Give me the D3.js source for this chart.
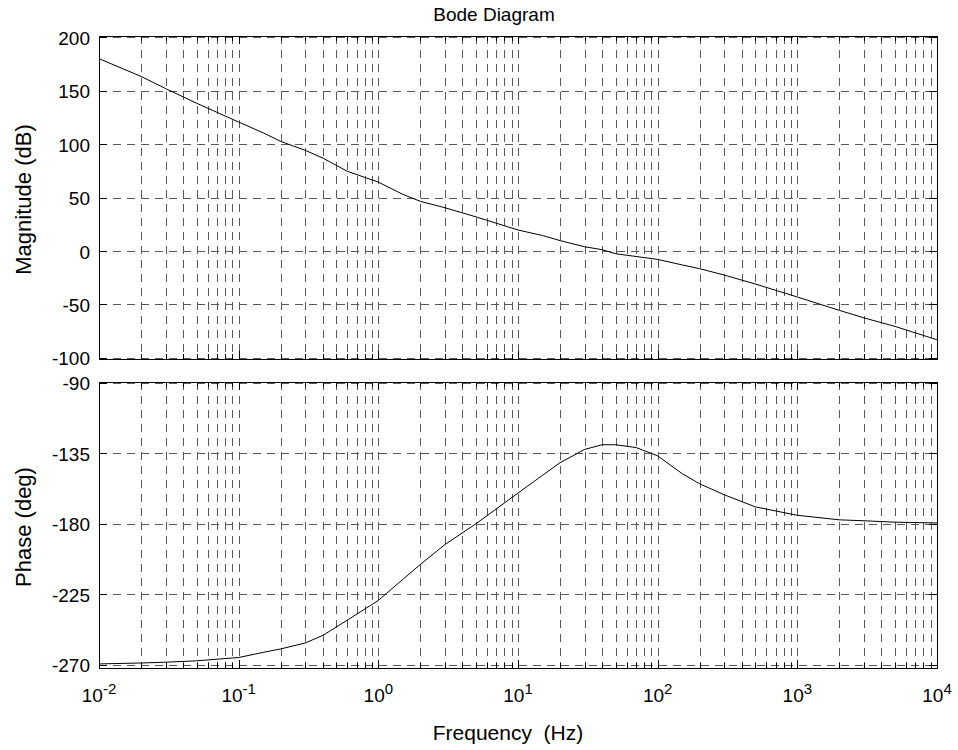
<!DOCTYPE html>
<html>
<head>
<meta charset="utf-8">
<script src="https://cdn.jsdelivr.net/npm/d3@7"></script>
<style>
  html, body { margin: 0; padding: 0; background: #fff; }
  svg { display: block; font-family: "Liberation Sans", Arial, sans-serif; }
</style>
</head>
<body>
<svg id="chart" width="958" height="750"></svg>
<script>
// Frequency samples (Hz) shared by both responses
const freqHz = [0.01, 0.02, 0.03, 0.05, 0.1, 0.15, 0.2, 0.3, 0.4, 0.6, 1, 1.5, 2, 3, 5,
  10, 15, 20, 30, 40, 50, 70, 100, 150, 200, 300, 500, 1000, 2000, 3000, 5000, 10000];

// Magnitude response (dB)
const magnitudeDb = [180, 163.4, 152, 138.3, 120.7, 110.6, 102.6, 94.2, 87, 74.6, 64.5, 53, 46.5, 40.5, 32,
  19.7, 14.5, 9.8, 4, 1.3, -2.5, -5.1, -7.8, -13, -16.5, -22.5, -30.8, -43, -55.5, -62.5, -70.5, -83];

// Phase response (deg)
const phaseDeg = [-269.6, -269, -268.5, -267.6, -265.5, -262.2, -260, -256.2, -251.4, -241.6, -229, -215.5, -206, -193.3, -180,
  -160.4, -149, -141, -132.5, -129.5, -129.5, -131.3, -136.6, -148, -154.5, -161.5, -169.2, -174.6, -177.5, -178.1, -179, -179.5];

// Tick values
const magTicks = [200, 150, 100, 50, 0, -50, -100];
const phaseTicks = [-90, -135, -180, -225, -270];
const decadeExponents = [-2, -1, 0, 1, 2, 3, 4];

const svg = d3.select("#chart");
const left = 99, right = 937;
const fontSize = 19;
const labelSize = 22;

const x = d3.scaleLog().domain([0.01, 10000]).range([left, right]);

// All log grid positions: 2..9 times each decade
const minorFreqs = [];
decadeExponents.slice(0, -1).forEach(e => {
  for (let m = 2; m <= 9; m++) minorFreqs.push(m * Math.pow(10, e));
});
const decadeFreqs = decadeExponents.map(e => Math.pow(10, e));

function drawPanel(cfg) {
  const y = d3.scaleLinear().domain(cfg.domain).range([cfg.bottom, cfg.top]);
  const g = svg.append("g");

  // dashed grid
  const grid = g.append("g").attr("stroke", "#5a5a5a").attr("stroke-width", 1)
    .attr("stroke-dasharray", "8,6").attr("fill", "none");
  decadeFreqs.concat(minorFreqs).forEach(f => {
    const px = Math.round(x(f)) + 0.5;
    grid.append("line").attr("x1", px).attr("x2", px)
      .attr("y1", cfg.top).attr("y2", cfg.bottom);
  });
  cfg.ticks.forEach(v => {
    const py = Math.round(y(v)) + 0.5;
    grid.append("line").attr("x1", left).attr("x2", right)
      .attr("y1", py).attr("y2", py);
  });

  // inward tick marks
  const ticks = g.append("g").attr("stroke", "#000").attr("stroke-width", 1);
  decadeFreqs.forEach(f => {
    const px = Math.round(x(f)) + 0.5;
    ticks.append("line").attr("x1", px).attr("x2", px).attr("y1", cfg.bottom).attr("y2", cfg.bottom - 8);
    ticks.append("line").attr("x1", px).attr("x2", px).attr("y1", cfg.top).attr("y2", cfg.top + 8);
  });
  minorFreqs.forEach(f => {
    const px = Math.round(x(f)) + 0.5;
    ticks.append("line").attr("x1", px).attr("x2", px).attr("y1", cfg.bottom).attr("y2", cfg.bottom - 5);
    ticks.append("line").attr("x1", px).attr("x2", px).attr("y1", cfg.top).attr("y2", cfg.top + 5);
  });
  cfg.ticks.forEach(v => {
    const py = Math.round(y(v)) + 0.5;
    ticks.append("line").attr("x1", left).attr("x2", left + 8).attr("y1", py).attr("y2", py);
    ticks.append("line").attr("x1", right).attr("x2", right - 8).attr("y1", py).attr("y2", py);
  });

  // response curve
  const line = d3.line().x((d, i) => x(freqHz[i])).y(d => y(d));
  g.append("path").datum(cfg.values).attr("d", line)
    .attr("fill", "none").attr("stroke", "#000").attr("stroke-width", 1);

  // frame
  g.append("rect").attr("x", left + 0.5).attr("y", cfg.top + 0.5)
    .attr("width", right - left).attr("height", cfg.bottom - cfg.top)
    .attr("fill", "none").attr("stroke", "#000").attr("stroke-width", 1);

  // y tick labels
  cfg.ticks.forEach(v => {
    svg.append("text").attr("x", 90).attr("y", y(v) + 7.5)
      .attr("text-anchor", "end").attr("font-size", fontSize).attr("fill", "#000")
      .text(v);
  });

  // y axis title
  svg.append("text")
    .attr("transform", `translate(31,${(cfg.top + cfg.bottom) / 2 + 2}) rotate(-90)`)
    .attr("text-anchor", "middle").attr("font-size", labelSize).attr("fill", "#000")
    .text(cfg.label);

  return y;
}

drawPanel({ top: 36, bottom: 359, domain: [-101, 201.2], ticks: magTicks, values: magnitudeDb, label: "Magnitude (dB)" });
drawPanel({ top: 382, bottom: 668, domain: [-272.2, -89.4], ticks: phaseTicks, values: phaseDeg, label: "Phase (deg)" });

// x tick labels: 10 with superscript exponent
decadeExponents.forEach(e => {
  const t = svg.append("text").attr("x", x(Math.pow(10, e))).attr("y", 702)
    .attr("text-anchor", "middle").attr("font-size", fontSize).attr("fill", "#000");
  t.append("tspan").text("10");
  t.append("tspan").attr("dy", -8.5).attr("font-size", 15).text(e);
});

// titles
svg.append("text").attr("x", 494).attr("y", 21).attr("text-anchor", "middle")
  .attr("font-size", fontSize).attr("fill", "#000").text("Bode Diagram");
svg.append("text").attr("x", 508).attr("y", 740).attr("text-anchor", "middle")
  .attr("font-size", 21).attr("fill", "#000").attr("xml:space", "preserve")
  .style("white-space", "pre").text("Frequency  (Hz)");
</script>
</body>
</html>
